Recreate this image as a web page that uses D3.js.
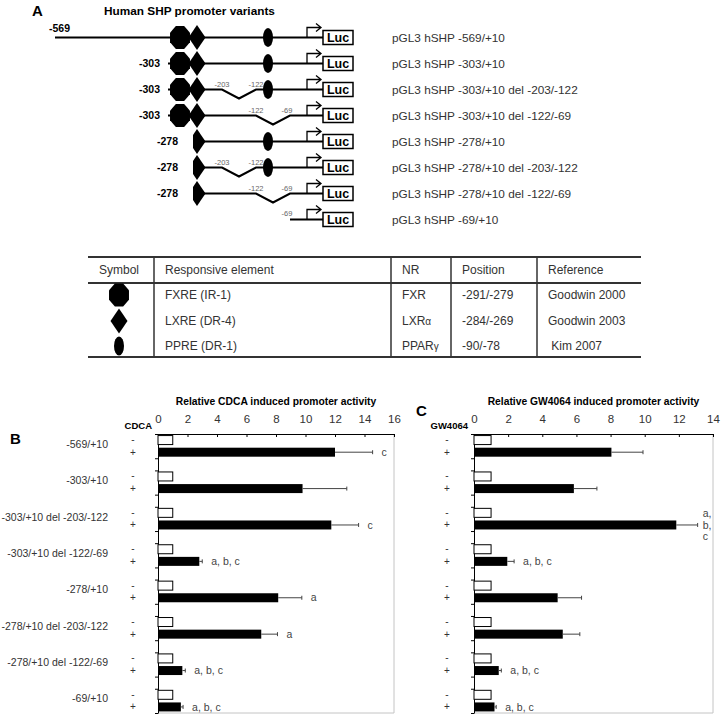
<!DOCTYPE html>
<html>
<head>
<meta charset="utf-8">
<script src="https://cdn.jsdelivr.net/npm/d3@7"></script>
<style>
  body { margin: 0; background: #fff; }
  text { font-family: Arial, "Liberation Sans", sans-serif; }
</style>
</head>
<body>
<svg id="fig" width="722" height="717"></svg>
<script>
// ---- data: promoter constructs (panel A)
let variantNames = [
  "pGL3 hSHP -569/+10",
  "pGL3 hSHP -303/+10",
  "pGL3 hSHP -303/+10 del -203/-122",
  "pGL3 hSHP -303/+10 del -122/-69",
  "pGL3 hSHP -278/+10",
  "pGL3 hSHP -278/+10 del -203/-122",
  "pGL3 hSHP -278/+10 del -122/-69",
  "pGL3 hSHP -69/+10"
];
let variantStarts = [-569, -303, -303, -303, -278, -278, -278, -69];
let variantDeletions = [null, null, [-203, -122], [-122, -69], null, [-203, -122], [-122, -69], null];

// ---- data: responsive elements table
let elementSymbols = ["octagon", "diamond", "ellipse"];
let elementNames = ["FXRE (IR-1)", "LXRE (DR-4)", "PPRE (DR-1)"];
let elementNR = [["FXR", ""], ["LXR", "α"], ["PPAR", "γ"]];
let elementPositions = ["-291/-279", "-284/-269", "-90/-78"];
let elementStarts = [-291, -284, -90];
let elementEnds = [-279, -269, -78];
let elementRefs = ["Goodwin 2000", "Goodwin 2003", " Kim 2007"];
let tableHeaders = ["Symbol", "Responsive element", "NR", "Position", "Reference"];

// ---- data: bar charts (panels B and C)
let barLabels = ["-569/+10", "-303/+10", "-303/+10 del -203/-122", "-303/+10 del -122/-69",
                 "-278/+10", "-278/+10 del -203/-122", "-278/+10 del -122/-69", "-69/+10"];
let controlValues = [1, 1, 1, 1, 1, 1, 1, 1];
let cdcaValues = [12.0, 9.8, 11.75, 2.8, 8.15, 7.0, 1.65, 1.55];
let cdcaErrors = [2.55, 3.0, 1.85, 0.2, 1.6, 1.1, 0.2, 0.15];
let cdcaSig = ["c", "", "c", "a, b, c", "a", "a", "a, b, c", "a, b, c"];
let cdcaTicks = [0, 2, 4, 6, 8, 10, 12, 14, 16];
let gwValues = [8.05, 5.85, 11.85, 1.95, 4.9, 5.2, 1.45, 1.2];
let gwErrors = [1.85, 1.35, 1.25, 0.4, 1.4, 1.0, 0.15, 0.1];
let gwSig = ["", "", "a, b, c", "a, b, c", "", "", "a, b, c", "a, b, c"];
let gwTicks = [0, 2, 4, 6, 8, 10, 12, 14];

let svg = d3.select("#fig");
let ink = "#222";

// ---------- shapes
let octagon = (cx, cy, rx, ry) => {
  let pts = d3.range(8).map(k => {
    let a = Math.PI / 8 + k * Math.PI / 4;
    return [cx + rx * Math.cos(a), cy + ry * Math.sin(a)];
  });
  return "M" + pts.join("L") + "Z";
};
let diamond = (cx, cy, hw, hh, clipX) => {
  if (clipX == null || clipX <= cx - hw) {
    return `M${cx - hw},${cy}L${cx},${cy - hh}L${cx + hw},${cy}L${cx},${cy + hh}Z`;
  }
  let dy = hh * (1 - (cx - clipX) / hw);
  return `M${clipX},${cy - dy}L${cx},${cy - hh}L${cx + hw},${cy}L${cx},${cy + hh}L${clipX},${cy + dy}Z`;
};
let drawSymbol = (g, type, cx, cy, clipX) => {
  if (type === "octagon") g.append("path").attr("d", octagon(cx, cy, 10.8, 12.4)).attr("fill", "#000");
  else if (type === "diamond") g.append("path").attr("d", diamond(cx, cy, 8.5, 12.5, clipX)).attr("fill", "#000");
  else g.append("ellipse").attr("cx", cx).attr("cy", cy).attr("rx", 5).attr("ry", 9.5).attr("fill", "#000");
};

// ---------- panel A
svg.append("text").attr("x", 32).attr("y", 16).attr("font-size", 15).attr("font-weight", "bold").text("A");
svg.append("text").attr("x", 104).attr("y", 15).attr("font-size", 11.8).attr("font-weight", "bold")
   .text("Human SHP promoter variants");

// schematic, not to scale
let diagX = d3.scaleLinear()
  .domain([-569, -303, -285, -278, -276.5, -203, -122, -84, -69, 10])
  .range([55, 168, 180, 193, 197, 222, 256, 268, 290, 307]);
let rowY = d3.scaleLinear().domain([0, variantNames.length - 1]).range([37.5, 219.5]);
let mid = (a, b) => (a + b) / 2;

variantNames.forEach((name, i) => {
  let g = svg.append("g");
  let y = rowY(i);
  let s = variantStarts[i];
  let del = variantDeletions[i];
  let x0 = diagX(s), xTss = diagX(10), boxX = xTss + 16;

  let d = `M${x0},${y}`;
  if (del) {
    let a = diagX(del[0]), b = diagX(del[1]);
    d += `L${a},${y}L${mid(a, b)},${y + 9}L${b},${y}`;
  }
  d += `L${boxX},${y}`;
  g.append("path").attr("d", d).attr("fill", "none").attr("stroke", "#000").attr("stroke-width", 2);

  // responsive elements present in this construct
  let halfLXRE = false;
  elementSymbols.forEach((sym, k) => {
    let es = elementStarts[k], ee = elementEnds[k];
    if (s > ee) return;
    if (del && del[0] <= es && del[1] >= ee) return;
    let cx = diagX(mid(es, ee));
    let clip = s > es ? x0 : null;
    if (clip != null) halfLXRE = true;
    drawSymbol(g, sym, cx, y, clip);
  });

  // deletion junction labels
  if (del) {
    del.forEach((p, j) => {
      g.append("text").attr("x", diagX(p) - (j === 1 && p === -69 ? 3 : 0)).attr("y", y - 3)
       .attr("text-anchor", "middle").attr("font-size", 7.5).attr("fill", "#666").text(p);
    });
  }

  // start labels
  if (i === 0) {
    g.append("text").attr("x", x0 - 6).attr("y", y - 6).attr("font-size", 10.5)
     .attr("font-weight", "bold").text(s);
  } else if (s > -100) {
    g.append("text").attr("x", x0 - 3).attr("y", y - 4).attr("text-anchor", "middle")
     .attr("font-size", 7.5).attr("fill", "#666").text(s);
  } else {
    g.append("text").attr("x", x0 - (halfLXRE ? 15 : 8)).attr("y", y + 3.5).attr("text-anchor", "end")
     .attr("font-size", 10.5).attr("font-weight", "bold").text(s);
  }

  // transcription start arrow and reporter box
  g.append("path").attr("d", `M${xTss},${y}V${y - 10}H${boxX - 2}M${boxX - 7},${y - 14}L${boxX - 2},${y - 10}L${boxX - 7},${y - 6}`)
   .attr("fill", "none").attr("stroke", "#000").attr("stroke-width", 1.3);
  g.append("rect").attr("x", boxX).attr("y", y - 7).attr("width", 30).attr("height", 14)
   .attr("fill", "#fff").attr("stroke", "#000").attr("stroke-width", 1.5);
  g.append("text").attr("x", boxX + 15).attr("y", y + 4.5).attr("text-anchor", "middle")
   .attr("font-size", 12.5).attr("font-weight", "bold").text("Luc");

  svg.append("text").attr("x", 392).attr("y", y).attr("dy", "0.35em").attr("font-size", 11.8)
     .attr("fill", "#333").text(name);
});

// ---------- table
let tbl = svg.append("g");
let tLeft = 88, tRight = 641, tTop = 257, tHead = 283, tBottom = 357;
let colLines = [154, 391, 451, 537];
let colText = [119, 165, 402, 462, 548];
let tRowY = [295, 321, 346];
[tTop, tHead, tBottom].forEach(yy => {
  tbl.append("line").attr("x1", tLeft).attr("x2", tRight).attr("y1", yy).attr("y2", yy)
     .attr("stroke", "#333").attr("stroke-width", 2);
});
colLines.forEach(xx => {
  tbl.append("line").attr("x1", xx).attr("x2", xx).attr("y1", tTop).attr("y2", tBottom)
     .attr("stroke", "#333").attr("stroke-width", 1.5);
});
tableHeaders.forEach((h, c) => {
  tbl.append("text").attr("x", colText[c]).attr("y", 270).attr("dy", "0.35em")
     .attr("text-anchor", c === 0 ? "middle" : "start").attr("font-size", 12).attr("fill", "#333").text(h);
});
elementNames.forEach((n, r) => {
  let yy = tRowY[r];
  drawSymbol(tbl, elementSymbols[r], colText[0], yy, null);
  tbl.append("text").attr("x", colText[1]).attr("y", yy).attr("dy", "0.35em").attr("font-size", 12).attr("fill", "#333").text(n);
  let nr = tbl.append("text").attr("x", colText[2]).attr("y", yy).attr("dy", "0.35em").attr("font-size", 12).attr("fill", "#333");
  nr.append("tspan").text(elementNR[r][0]);
  nr.append("tspan").attr("font-size", 10).text(elementNR[r][1]);
  tbl.append("text").attr("x", colText[3]).attr("y", yy).attr("dy", "0.35em").attr("font-size", 12).attr("fill", "#333").text(elementPositions[r]);
  tbl.append("text").attr("x", colText[4]).attr("y", yy).attr("dy", "0.35em").attr("font-size", 12).attr("fill", "#333")
     .attr("xml:space", "preserve").text(elementRefs[r]);
});

// ---------- bar panels
let drawBars = (cfg) => {
  let g = svg.append("g");
  let x = d3.scaleLinear().domain([0, d3.max(cfg.ticks)]).range([cfg.left, cfg.right]);
  let nRows = barLabels.length * 3 - 1;
  let y = d3.scaleLinear().domain([0, nRows]).range([434, 713]);
  let rowH = y(1) - y(0);
  let barH = 9;

  // light frame
  g.append("path").attr("d", `M${cfg.right},${y(0)}V${y(nRows)}H${cfg.left}`)
   .attr("fill", "none").attr("stroke", "#c4c4c4").attr("stroke-width", 1);

  let top = g.append("g").attr("transform", `translate(0,${y(0)})`)
    .call(d3.axisTop(x).tickValues(cfg.ticks).tickSizeInner(-3).tickSizeOuter(0).tickPadding(11));
  top.attr("font-family", null).attr("font-size", null);
  top.selectAll("text").attr("font-size", 11.5).attr("fill", "#333");
  top.select(".domain").attr("stroke", "#000");

  let bounds = d3.range(0, nRows + 1).filter(r => r % 3 !== 1);
  let left = g.append("g").attr("transform", `translate(${cfg.left},0)`)
    .call(d3.axisLeft(y).tickValues(bounds).tickFormat("").tickSize(3).tickSizeOuter(0));
  left.select(".domain").attr("stroke", "#000");

  barLabels.forEach((lab, i) => {
    let yw = y(3 * i + 0.5), yb = y(3 * i + 1.5);
    g.append("rect").attr("x", x(0)).attr("y", yw - barH / 2).attr("width", x(controlValues[i]) - x(0))
     .attr("height", barH).attr("fill", "#fff").attr("stroke", "#000").attr("stroke-width", 1);
    g.append("rect").attr("x", x(0)).attr("y", yb - barH / 2).attr("width", x(cfg.values[i]) - x(0))
     .attr("height", barH).attr("fill", "#000");
    let xe = x(cfg.values[i] + cfg.errors[i]);
    g.append("path").attr("d", `M${x(cfg.values[i])},${yb}H${xe}M${xe},${yb - 2}V${yb + 2}`)
     .attr("stroke", "#444").attr("stroke-width", 1).attr("fill", "none");

    g.append("text").attr("x", cfg.signX).attr("y", yw).attr("dy", "0.3em").attr("text-anchor", "middle")
     .attr("font-size", 10).attr("fill", "#333").text("-");
    g.append("text").attr("x", cfg.signX).attr("y", yb).attr("dy", "0.35em").attr("text-anchor", "middle")
     .attr("font-size", 10).attr("fill", "#333").text("+");
    if (cfg.rowLabels) {
      g.append("text").attr("x", 108).attr("y", yw + 4).attr("dy", "0.35em").attr("text-anchor", "end")
       .attr("font-size", 10.5).attr("fill", "#333").text(lab);
    }

    let sig = cfg.sig[i];
    if (sig) {
      let sx = xe + 9;
      let t = g.append("text").attr("x", sx).attr("y", yb).attr("dy", "0.35em")
        .attr("font-size", 10.5).attr("fill", "#444").text(sig);
      if (sx + t.node().getComputedTextLength() > cfg.right) {
        t.remove();
        let parts = sig.split(" ");
        parts.forEach((p, k) => {
          g.append("text").attr("x", xe + 5).attr("y", yb + (k - (parts.length - 1) / 2) * 11.5)
           .attr("dy", "0.35em").attr("font-size", 10.5).attr("fill", "#444").text(p);
        });
      }
    }
  });

  svg.append("text").attr("x", cfg.letterX).attr("y", cfg.letterY).attr("font-size", 15)
     .attr("font-weight", "bold").text(cfg.letter);
  svg.append("text").attr("x", mid(cfg.left, cfg.right)).attr("y", 405).attr("text-anchor", "middle")
     .attr("font-size", 10.3).attr("font-weight", "bold").text(cfg.title);
  svg.append("text").attr("x", cfg.treatX).attr("y", 429).attr("text-anchor", "end")
     .attr("font-size", 9.5).attr("font-weight", "bold").text(cfg.treatment);
};

drawBars({
  ticks: cdcaTicks, values: cdcaValues, errors: cdcaErrors, sig: cdcaSig,
  left: 158, right: 394, signX: 133, rowLabels: true,
  letter: "B", letterX: 10, letterY: 444,
  title: "Relative CDCA induced promoter activity", treatment: "CDCA", treatX: 152
});
drawBars({
  ticks: gwTicks, values: gwValues, errors: gwErrors, sig: gwSig,
  left: 474, right: 713, signX: 447, rowLabels: false,
  letter: "C", letterX: 416, letterY: 416,
  title: "Relative GW4064 induced promoter activity", treatment: "GW4064", treatX: 468
});
</script>
</body>
</html>
